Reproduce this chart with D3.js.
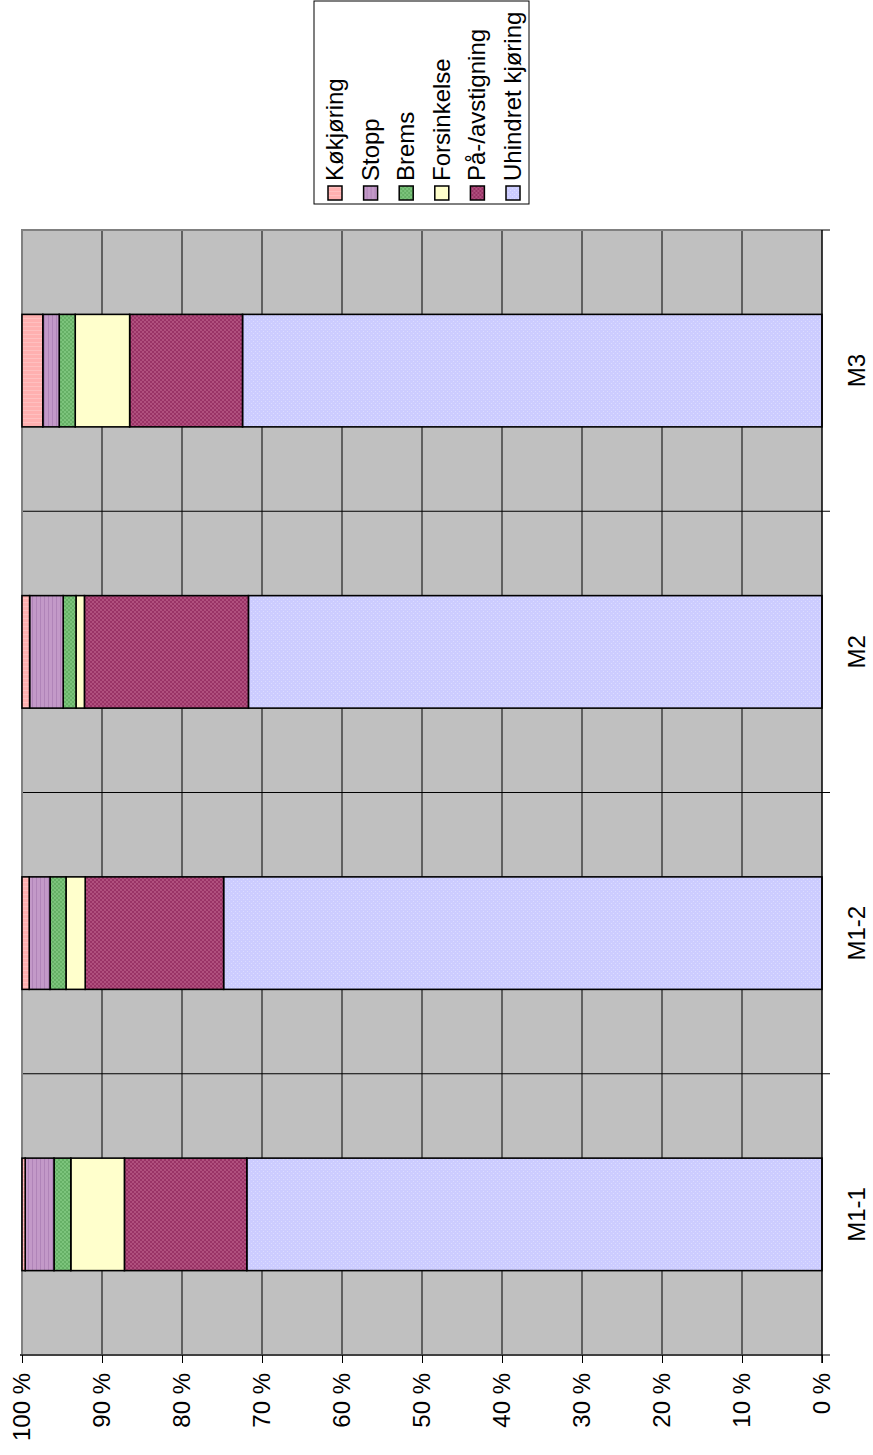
<!DOCTYPE html>
<html>
<head>
<meta charset="utf-8">
<script src="https://cdn.jsdelivr.net/npm/d3@7"></script>
<style>
  body { margin: 0; background: #fff; }
  text { font-family: "Liberation Sans", Arial, sans-serif; }
</style>
</head>
<body>
<div id="chart"></div>
<script>
// categories and series (percent shares)
var categories = ["M1-1", "M1-2", "M2", "M3"];
var seriesNames = ["Uhindret kjøring", "På-/avstigning", "Forsinkelse", "Brems", "Stopp", "Køkjøring"];
var uhindret   = [71.9, 74.8, 71.7, 72.4];
var paaAv      = [15.3, 17.3, 20.5, 14.1];
var forsinkels = [6.7, 2.4, 1.05, 6.8];
var brems      = [2.1, 2.0, 1.6, 2.0];
var stopp      = [3.6, 2.6, 4.2, 2.05];
var kokjoring  = [0.4, 0.9, 0.95, 2.6];
var tickValues = [0, 0.1, 0.2, 0.3, 0.4, 0.5, 0.6, 0.7, 0.8, 0.9, 1];
var legendOrder = ["Køkjøring", "Stopp", "Brems", "Forsinkelse", "På-/avstigning", "Uhindret kjøring"];

var seriesValues = [uhindret, paaAv, forsinkels, brems, stopp, kokjoring];
var data = categories.map(function (c, i) {
    var row = {name: c};
    seriesNames.forEach(function (s, j) { row[s] = seriesValues[j][i]; });
    return row;
});

var W = 873, H = 1455;
var svg = d3.select("#chart").append("svg")
    .attr("width", W)
    .attr("height", H);

// the whole chart is drawn upright and then turned a quarter left
var g = svg.append("g")
    .attr("transform", "translate(0," + H + ") rotate(-90)");

var plot = {left: 100, right: 1225, top: 22, bottom: 822};

var defs = svg.append("defs");
function addPattern(id, base, dot, kind) {
    var p = defs.append("pattern")
        .attr("id", id)
        .attr("patternUnits", "userSpaceOnUse")
        .attr("width", 4).attr("height", 4);
    p.append("rect").attr("width", 4).attr("height", 4).attr("fill", base);
    if (kind === "hline") {
        p.append("rect").attr("x", 0).attr("y", 0).attr("width", 1).attr("height", 4).attr("fill", dot);
    } else if (kind === "vline") {
        p.append("rect").attr("x", 0).attr("y", 0).attr("width", 4).attr("height", 1).attr("fill", dot);
    } else if (kind === "check") {
        p.append("rect").attr("x", 0).attr("y", 0).attr("width", 2).attr("height", 2).attr("fill", dot);
        p.append("rect").attr("x", 2).attr("y", 2).attr("width", 2).attr("height", 2).attr("fill", dot);
    } else if (kind === "dot") {
        p.append("rect").attr("x", 1).attr("y", 1).attr("width", 1).attr("height", 1).attr("fill", dot);
        p.append("rect").attr("x", 3).attr("y", 3).attr("width", 1).attr("height", 1).attr("fill", dot);
    }
    return "url(#" + id + ")";
}

var color = d3.scaleOrdinal()
    .domain(seriesNames)
    .range([
        addPattern("pUh", "#ccccff", "#dcdcff", "dot"),
        addPattern("pPa", "#993366", "#b0507e", "check"),
        "#ffffcc",
        addPattern("pBr", "#7cc47c", "#66b066", "check"),
        addPattern("pSt", "#c399c8", "#b084b8", "vline"),
        addPattern("pKo", "#ffb0b0", "#ffc0c0", "hline")
    ]);

var x = d3.scaleBand()
    .domain(categories)
    .range([plot.left, plot.right])
    .paddingInner(0.6)
    .paddingOuter(0.3);

var xCat = d3.scaleBand()
    .domain(categories)
    .range([plot.left, plot.right])
    .padding(0);

var y = d3.scaleLinear()
    .domain([0, 1])
    .range([plot.bottom, plot.top]);

// plot background
g.append("rect")
    .attr("x", plot.left).attr("y", plot.top)
    .attr("width", plot.right - plot.left)
    .attr("height", plot.bottom - plot.top)
    .attr("fill", "#c0c0c0");

// value gridlines
g.append("g").selectAll("line")
    .data(tickValues.slice(1, -1))
    .enter().append("line")
    .attr("x1", plot.left).attr("x2", plot.right)
    .attr("y1", function (d) { return y(d); })
    .attr("y2", function (d) { return y(d); })
    .attr("stroke", "#000").attr("stroke-width", 1);

// category gridlines
g.append("g").selectAll("line")
    .data(categories.slice(1))
    .enter().append("line")
    .attr("x1", function (d) { return xCat(d); })
    .attr("x2", function (d) { return xCat(d); })
    .attr("y1", plot.top).attr("y2", plot.bottom)
    .attr("stroke", "#000").attr("stroke-width", 1);

// plot border (grey top/right side)
g.append("path")
    .attr("d", "M" + plot.left + "," + plot.top + "H" + plot.right + "V" + plot.bottom)
    .attr("fill", "none")
    .attr("stroke", "#808080")
    .attr("stroke-width", 2);

var stackedData = d3.stack()
    .keys(seriesNames)
    .offset(d3.stackOffsetExpand)(data);

g.append("g")
    .selectAll("g")
    .data(stackedData)
    .enter().append("g")
    .attr("fill", function (d) { return color(d.key); })
    .selectAll("rect")
    .data(function (d) { return d; })
    .enter().append("rect")
    .attr("x", function (d) { return x(d.data.name); })
    .attr("y", function (d) { return y(d[1]); })
    .attr("height", function (d) { return y(d[0]) - y(d[1]); })
    .attr("width", x.bandwidth())
    .attr("stroke", "#000")
    .attr("stroke-width", 1.6);

// value axis (left in upright frame)
var yAxis = g.append("g")
    .attr("transform", "translate(" + plot.left + ",0)")
    .call(d3.axisLeft(y)
        .tickValues(tickValues)
        .tickSize(8)
        .tickPadding(10)
        .tickFormat(function (d) { return Math.round(d * 100) + " %"; }));
yAxis.select(".domain")
    .attr("stroke", "#404040")
    .attr("stroke-width", 2)
    .attr("d", "M" + 0 + "," + (plot.top - 2) + "V" + plot.bottom);
yAxis.selectAll(".tick line").attr("stroke", "#000");
yAxis.selectAll("text")
    .attr("font-size", "24px")
    .attr("fill", "#000")
    .attr("font-family", "Liberation Sans, Arial, sans-serif");

// category axis (bottom in upright frame)
var xAxis = g.append("g")
    .attr("transform", "translate(0," + plot.bottom + ")");
xAxis.append("line")
    .attr("x1", plot.left - 8).attr("x2", plot.right)
    .attr("stroke", "#000").attr("stroke-width", 1.5);
xAxis.selectAll(".ctick")
    .data(categories.concat(["end"]))
    .enter().append("line")
    .attr("class", "ctick")
    .attr("x1", function (d) { return d === "end" ? plot.right : xCat(d); })
    .attr("x2", function (d) { return d === "end" ? plot.right : xCat(d); })
    .attr("y1", 0).attr("y2", 8)
    .attr("stroke", "#000");
xAxis.selectAll(".clabel")
    .data(categories)
    .enter().append("text")
    .attr("class", "clabel")
    .attr("x", function (d) { return x(d) + x.bandwidth() / 2; })
    .attr("y", 43)
    .attr("text-anchor", "middle")
    .attr("font-size", "24px")
    .text(function (d) { return d; });

// legend
var legend = g.append("g");
legend.append("rect")
    .attr("x", 1251).attr("y", 314)
    .attr("width", 203).attr("height", 215)
    .attr("fill", "#fff")
    .attr("stroke", "#000")
    .attr("stroke-width", 1);

var item = legend.selectAll(".item")
    .data(legendOrder)
    .enter().append("g")
    .attr("class", "item")
    .attr("transform", function (d, i) { return "translate(1255," + (335 + i * 35.6) + ")"; });
item.append("rect")
    .attr("x", 0).attr("y", -7)
    .attr("width", 14).attr("height", 14)
    .attr("fill", function (d) { return color(d); })
    .attr("stroke", "#000")
    .attr("stroke-width", 1.5);
item.append("text")
    .attr("x", 19)
    .attr("y", 8)
    .attr("font-size", "24px")
    .text(function (d) { return d; });
</script>
</body>
</html>
